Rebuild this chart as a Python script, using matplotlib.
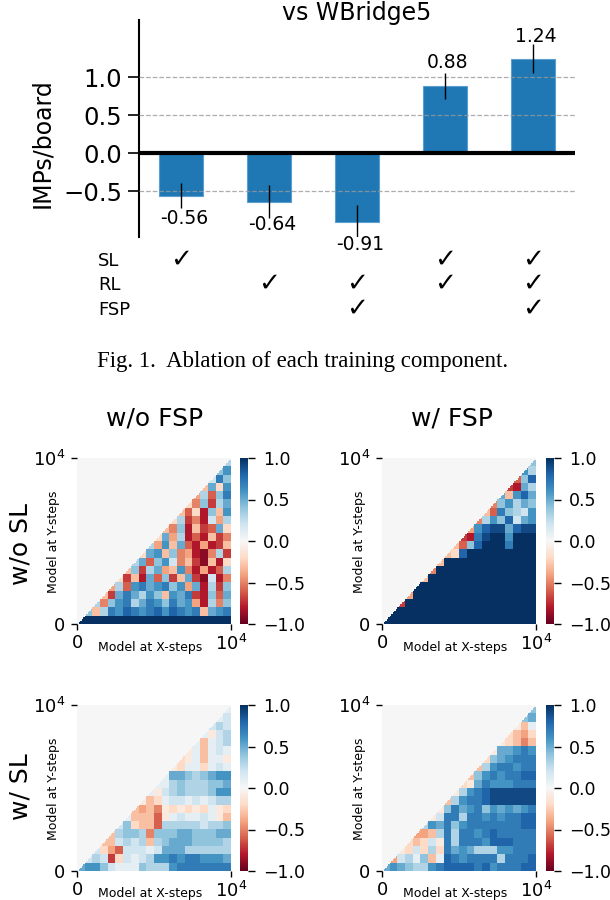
import numpy as np
import matplotlib
matplotlib.use('Agg')
import matplotlib.pyplot as plt

W, H = 610, 900

# bar chart values
imps = [-0.56, -0.64, -0.91, 0.88, 1.24]
imps_err = [0.165, 0.217, 0.23, 0.17, 0.19]
imps_labels = ['-0.56', '-0.64', '-0.91', '0.88', '1.24']
yticks = [-0.5, 0.0, 0.5, 1.0]

# which component was used for each bar
components = ['SL', 'RL', 'FSP']
sl_used = [1, 0, 0, 1, 1]
rl_used = [0, 1, 1, 1, 1]
fsp_used = [0, 0, 1, 0, 1]

# heatmaps, tenths, coarse estimate: top row first, right aligned to the edge
no_sl_no_fsp = [
    [3],
    [4, 6],
    [2, 7, 4],
    [-3, 5, -2, 6],
    [-4, 3, -6, 4, 7],
    [-2, -5, 4, -7, 3, 5],
    [-3, -6, -2, -8, 4, -3, 6],
    [-2, 3, -7, -5, -8, 2, -4, 3],
    [-3, -5, 4, -8, -3, -7, -6, 5, -2],
    [-2, 5, -4, 3, -8, -6, -8, -3, -7, -5],
    [3, -4, 6, -3, 5, -6, -8, -4, -8, -7, -3],
    [-2, 5, 6, -3, 4, -5, -4, -8, -9, -5, 3, -7],
    [3, 5, -6, 4, 6, 2, -5, -3, -7, -9, -3, -8, -2],
    [-3, 4, -7, 3, 5, -4, -3, 6, -5, -8, -4, -8, -6, 3],
    [-2, -7, -3, -8, 5, -6, 4, -7, -3, 5, -7, -9, 2, -8, -5],
    [-4, 3, -6, 6, 7, 5, 6, 7, 4, 6, -4, 5, -8, 3, -7, 4],
    [-3, -7, 5, 7, 5, 3, 6, 4, -3, 6, 5, 7, -7, -8, 4, -6, 5],
    [3, -5, 4, 6, 7, 3, 5, 7, 6, 4, 7, 5, 6, -4, -8, 3, -5, 4],
    [4, -3, 3, 7, 6, 8, 7, 6, 7, 8, 6, 8, 7, 6, 7, -3, 5, 6, 7],
    [10, 10, 10, 10, 10, 10, 10, 10, 10, 10, 10, 10, 10, 10, 10, 10, 10, 10, 10, 10],
]
no_sl_fsp = [
    [4],
    [6, 3],
    [-6, 4, 8],
    [-7, -8, 5, 3],
    [5, -3, 6, 8, 5],
    [-5, 4, 6, 3, 5, 4],
    [-3, -6, 7, 4, 3, 2, 6],
    [-5, 3, 6, 4, 8, 2, 5, 6],
    [-4, 6, 8, 9, 9, 5, 8, 9, 9],
    [-7, -8, 7, 9, 10, 10, 6, 10, 10, 10],
    [-3, -6, 4, 8, 10, 10, 10, 7, 10, 10, 10],
    [-3, -2, 8, 10, 10, 10, 10, 10, 10, 10, 10, 10],
    [-3, 10, 10, 10, 10, 10, 10, 10, 10, 10, 10, 10, 10],
    [-5, 10, 10, 10, 10, 10, 10, 10, 10, 10, 10, 10, 10, 10],
    [-3, 10, 10, 10, 10, 10, 10, 10, 10, 10, 10, 10, 10, 10, 10],
    [10, 10, 10, 10, 10, 10, 10, 10, 10, 10, 10, 10, 10, 10, 10, 10],
    [-4, 10, 10, 10, 10, 10, 10, 10, 10, 10, 10, 10, 10, 10, 10, 10, 10],
    [-7, 10, 10, 10, 10, 10, 10, 10, 10, 10, 10, 10, 10, 10, 10, 10, 10, 10],
    [10, 10, 10, 10, 10, 10, 10, 10, 10, 10, 10, 10, 10, 10, 10, 10, 10, 10, 10],
    [10, 10, 10, 10, 10, 10, 10, 10, 10, 10, 10, 10, 10, 10, 10, 10, 10, 10, 10, 10],
]
sl_no_fsp = [
    [1],
    [1, 2],
    [2, 3, 2],
    [1, -1, 2, 3],
    [1, -3, 1, 2, 3],
    [-1, 1, -3, 1, 2, 1],
    [-2, -1, 1, -3, 1, 1, -1],
    [-1, -2, 1, 1, -2, 1, 2, 1],
    [1, 5, 5, 4, 3, 4, 5, 6, 6],
    [1, 1, 3, 4, 3, 3, 3, 4, 4, 5],
    [1, -1, 2, 3, 4, 3, 3, 3, 4, 6, 6],
    [-1, -3, -2, 1, 2, 2, 1, 2, 1, 2, 3, 3],
    [-3, -4, -3, -5, -1, -2, -1, -2, -1, -2, 1, -1, -2],
    [1, -3, -3, -3, -6, -1, 1, 2, 1, 1, 2, 1, -1, -3],
    [2, 4, -2, -3, -3, -6, 3, 3, 3, 3, 3, 2, 3, 3, 4],
    [-3, 3, 4, 4, 3, -5, 4, 4, 4, 5, 5, 4, 4, 4, 5, 5],
    [-3, -3, 2, 3, 2, 3, -3, 3, 4, 5, 5, 5, 4, 4, 4, 4, 3],
    [2, -2, -4, -6, 2, 2, 2, 1, 2, 5, 5, 5, 3, 3, 3, 3, 3, 3],
    [2, 3, 2, -7, -2, 2, 1, 2, 3, 6, 6, 7, 6, 7, 7, 6, 6, 6, 5],
    [5, 6, 6, 4, 2, 1, 1, 1, 4, 3, 3, 3, 6, 7, 7, 7, 7, 7, 7, 7],
]
sl_fsp = [
    [4],
    [4, 5],
    [-1, -3, 1],
    [-2, -3, -4, -2],
    [-1, -2, -3, -5, -3],
    [-1, 5, 5, 6, 7, 6],
    [-2, 4, 5, 6, 7, 7, 7],
    [-3, 3, 6, 7, 7, 6, 7, 7],
    [-3, 4, 6, 7, 6, 7, 7, 8, 8],
    [-2, -1, 5, 7, 6, 6, 6, 7, 7, 7],
    [-1, 3, 6, 7, 8, 9, 9, 9, 9, 9, 9],
    [-3, 3, 6, 7, 7, 8, 9, 9, 9, 9, 9, 9],
    [-1, 4, 7, 5, 6, 7, 4, 6, 5, 6, 5, 6, 7],
    [-1, 2, 7, 7, 3, 7, 7, 6, 7, 6, 7, 7, 8, 8],
    [3, 6, 5, 7, 4, 6, 7, 7, 7, 7, 7, 7, 7, 8, 8],
    [-4, -4, -3, 3, 7, 3, 7, 7, 6, 7, 8, 7, 7, 7, 7, 7],
    [-2, -3, -2, 2, -1, 7, 3, 7, 7, 7, 6, 8, 8, 8, 7, 7, 7],
    [-1, -2, 2, -2, 3, -2, 7, 5, 6, 5, 3, 3, 3, 6, 6, 7, 7, 7],
    [-4, 2, 3, 1, 4, -3, 1, 8, 7, 6, 7, 7, 7, 7, 3, 7, 7, 7, 8],
    [5, 6, 5, 4, 3, 3, 6, 7, 8, 8, 8, 8, 7, 8, 6, 7, 7, 7, 8, 8],
]


def ax_px(left, top, right, bottom):
    return fig.add_axes([left / W, 1 - bottom / H, (right - left) / W, (bottom - top) / H])


def text_px(x, y, s, **kw):
    kw.setdefault('ha', 'center')
    kw.setdefault('va', 'center')
    fig.text(x / W, 1 - y / H, s, **kw)


def upscale(rows):
    # blocks to 100x100, blank (0) above the diagonal
    grid = np.zeros((20, 20))
    for i, row in enumerate(rows):
        grid[i, 20 - len(row):] = row
    big = np.kron(grid, np.ones((5, 5))) / 10
    return np.where(np.fliplr(np.tri(100, 100, -1)) == 1, big, 0)


def heatmap(rows, left, top, cb_left):
    ax = ax_px(left, top, left + 154, top + 166)
    im = ax.imshow(upscale(rows), cmap='RdBu', vmin=-1, vmax=1, aspect='auto',
                   origin='upper', extent=[0, 1, 0, 1], interpolation='nearest')
    for s in ax.spines.values():
        s.set_visible(False)
    ax.set_xticks([0, 1])
    ax.set_xticklabels(['0', '$10^4$'], fontsize=13)
    ax.set_yticks([0, 1])
    ax.set_yticklabels(['0', '$10^4$'], fontsize=13)
    ax.tick_params(length=4.5, width=1, pad=4)
    ax.tick_params(axis='x', pad=2.5)

    cax = ax_px(cb_left, top, cb_left + 8, top + 166)
    cb = fig.colorbar(im, cax=cax)
    cb.set_ticks([-1, -0.5, 0, 0.5, 1])
    cb.ax.tick_params(labelsize=12.5, length=5, width=1, pad=6)
    cb.outline.set_visible(False)

    text_px(left + 73, top + 189, 'Model at X-steps', fontsize=9)
    text_px(left - 23, top + 84, 'Model at Y-steps', fontsize=9, rotation=90)


fig = plt.figure(figsize=(W / 100, H / 100), dpi=100)

# ablation bars
ax = ax_px(139, 20, 575, 237)
xs = np.arange(len(imps))
ax.bar(xs, imps, width=0.5, color='#1f77b4', edgecolor='#5a9fcf', linewidth=0.8, zorder=2)
ax.errorbar(xs, imps, yerr=imps_err, fmt='none', ecolor='black', elinewidth=1, zorder=4)
for v in [-0.5, 0.5, 1.0]:
    ax.axhline(v, color='#999999', linestyle='--', linewidth=0.9, alpha=0.8, zorder=3)
ax.axhline(0, color='black', linewidth=3, zorder=5)
ax.set_xlim(-0.477, 4.477)
ax.set_ylim(-1.105, 1.75)
ax.set_xticks([])
ax.set_yticks(yticks)
ax.tick_params(axis='y', labelsize=17.5, length=8, width=1.2, pad=4)
for name in ['top', 'right', 'bottom']:
    ax.spines[name].set_visible(False)
ax.spines['left'].set_linewidth(1.5)

label_y = [218, 224, 245, 63, 36]
for x, s, y in zip(xs, imps_labels, label_y):
    text_px(184 + 88 * x, y, s, fontsize=13.5)

text_px(357, 13, 'vs WBridge5', fontsize=17)
text_px(42, 143, 'IMPs/board', fontsize=17, rotation=90)

# component table under the bars
table_y = [261, 285, 310]
for name, used, y in zip(components, [sl_used, rl_used, fsp_used], table_y):
    text_px(98, y, name, fontsize=13, ha='left')
    for x, u in zip(xs, used):
        if u:
            text_px(181 + 88 * x, y - 1, '\u2713', fontsize=19)

text_px(303, 361, 'Fig. 1.  Ablation of each training component.',
        fontsize=16.5, family='Liberation Serif')

text_px(155, 419, 'w/o FSP', fontsize=18)
text_px(452, 419, 'w/ FSP', fontsize=18)
text_px(20, 544, 'w/o SL', fontsize=18, rotation=90)
text_px(20, 787, 'w/ SL', fontsize=18, rotation=90)

heatmap(no_sl_no_fsp, 77, 458, 240)
heatmap(no_sl_fsp, 382, 458, 546)
heatmap(sl_no_fsp, 77, 705, 240)
heatmap(sl_fsp, 382, 705, 546)

fig.savefig('out.png', dpi=100)
